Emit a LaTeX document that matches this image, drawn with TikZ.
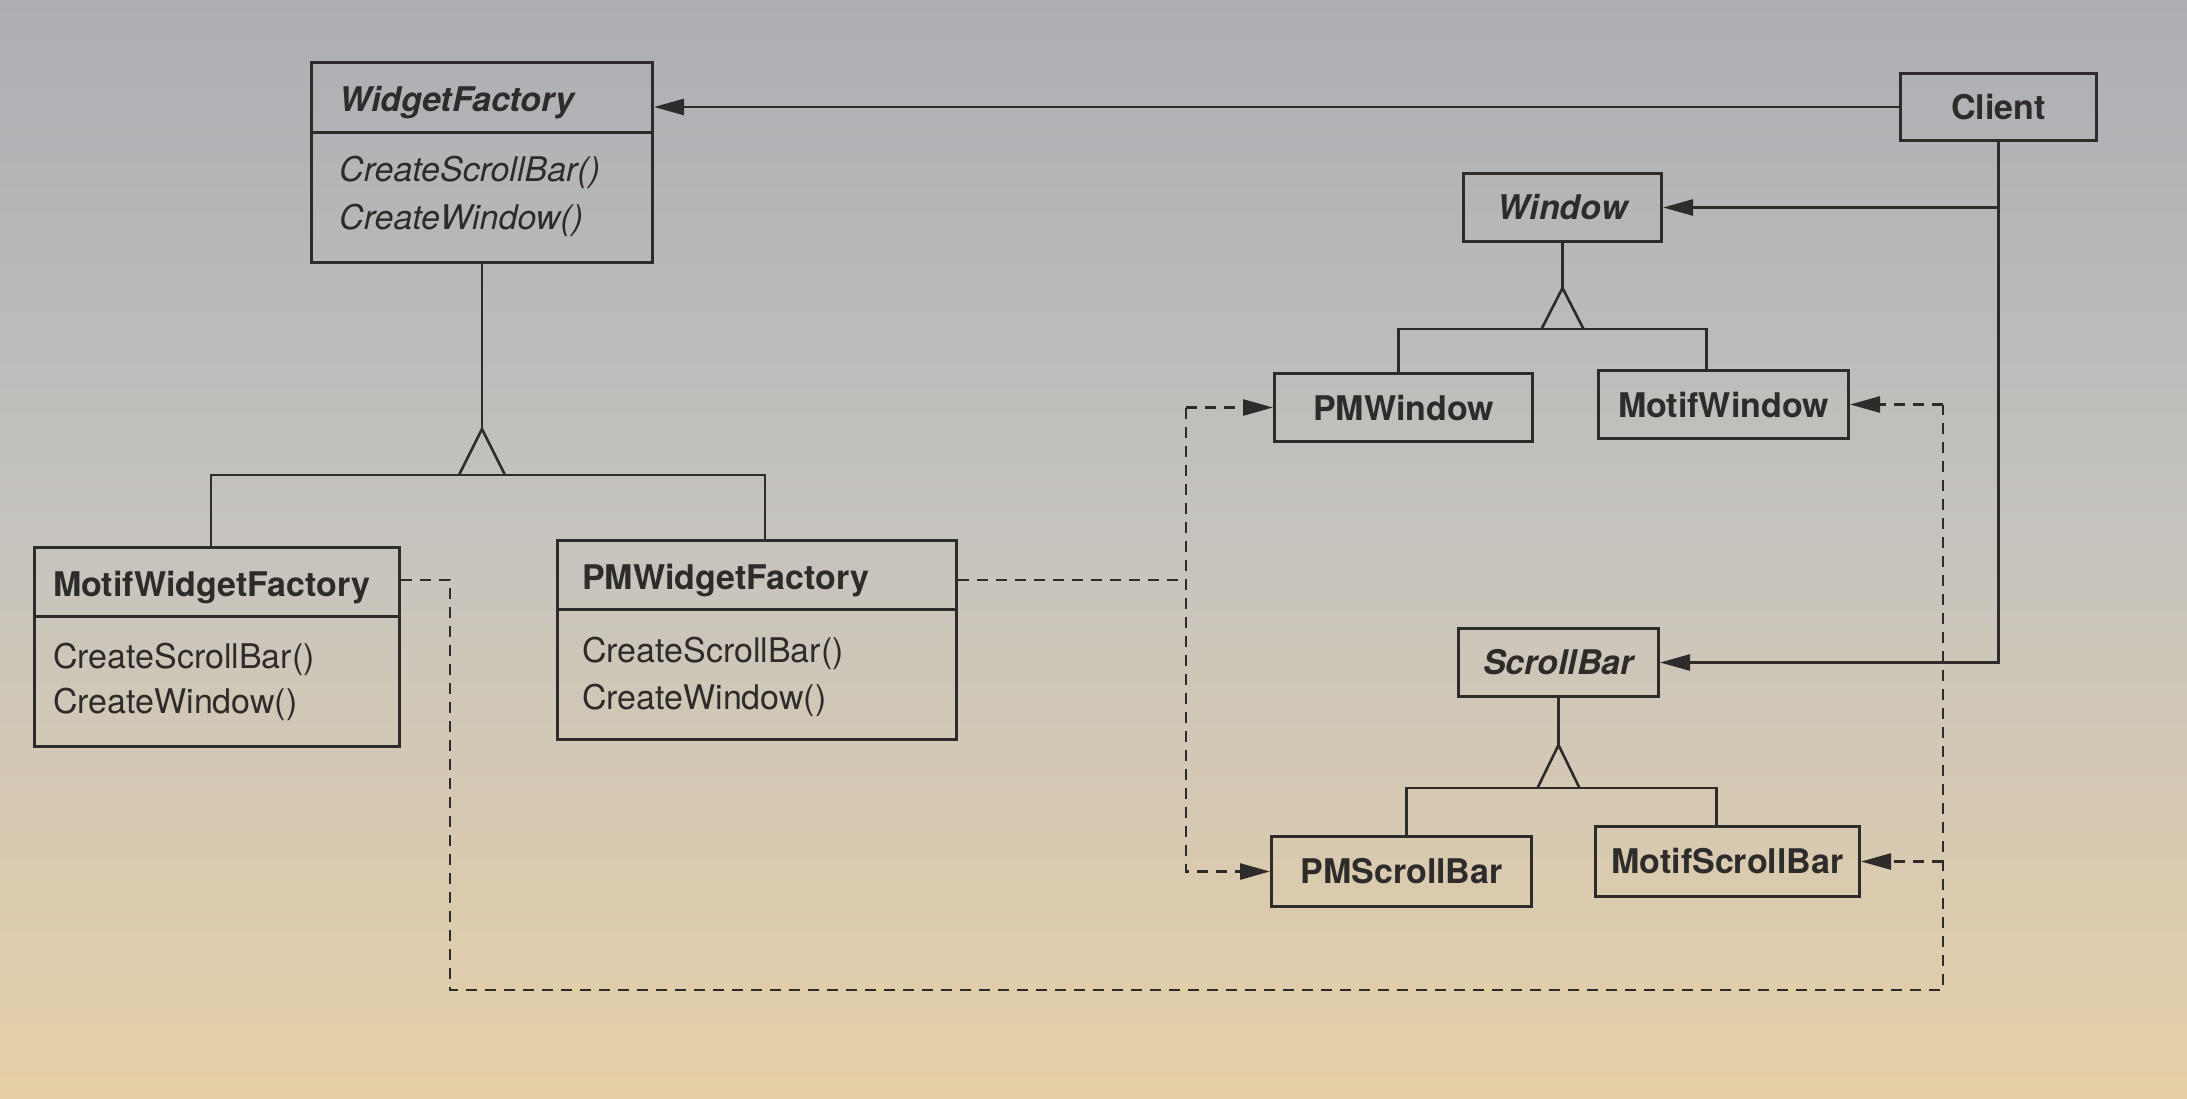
\documentclass[tikz,border=0pt]{standalone}
\usepackage{fontspec}
\setmainfont{TeX Gyre Heros}
\usetikzlibrary{arrows.meta,calc}
\definecolor{ink}{HTML}{2E2C2B}
\definecolor{bgtop}{HTML}{ACAEB4}
\definecolor{bgmid}{HTML}{C7C4BE}
\definecolor{bgbot}{HTML}{E6CFA6}
\begin{document}
\begin{tikzpicture}[x=1pt,y=-1pt,
  uml/.style={draw=ink, line width=3pt, inner sep=0pt, anchor=north west, text=ink,
    font={\fontsize{34}{40}\selectfont\bfseries}},
  txt/.style={inner sep=0pt, text=ink, anchor=base west, font={\fontsize{34}{40}\selectfont}},
  conn/.style={draw=ink, line width=2.6pt, line join=miter},
  dconn/.style={conn, dash pattern=on 11pt off 8pt},
  tip/.style={-{Triangle[length=30pt,width=16pt]}}
]
\fill[top color=bgtop, bottom color=bgbot, middle color=bgmid] (0,0) rectangle (2187,1099);
\useasboundingbox (0,0) rectangle (2187,1099);

% ---- abstract factory
\node[uml, minimum width=341pt, minimum height=200pt] (wf) at (310,61) {};
\draw[conn, line width=3pt] ($(wf.north west)+(0,72)$) -- ($(wf.north east)+(0,72)$);
\node[txt] (wft) at ($(wf.north west)+(29,51)$) {\bfseries\itshape WidgetFactory};
\node[txt] (wfm1) at ($(wf.north west)+(29,121)$) {\itshape CreateScrollBar()};
\node[txt] (wfm2) at ($(wf.north west)+(29,169)$) {\itshape CreateWindow()};

% ---- concrete factories
\node[uml, minimum width=365pt, minimum height=199pt] (mwf) at (33,546) {};
\draw[conn, line width=3pt] ($(mwf.north west)+(0,70)$) -- ($(mwf.north east)+(0,70)$);
\node[txt] (mwft) at ($(mwf.north west)+(20,50)$) {\bfseries MotifWidgetFactory};
\node[txt] (mwfm1) at ($(mwf.north west)+(20,122)$) {CreateScrollBar()};
\node[txt] (mwfm2) at ($(mwf.north west)+(20,167)$) {CreateWindow()};

\node[uml, minimum width=399pt, minimum height=199pt] (pwf) at (556,539) {};
\draw[conn, line width=3pt] ($(pwf.north west)+(0,70)$) -- ($(pwf.north east)+(0,70)$);
\node[txt] (pwft) at ($(pwf.north west)+(26,50)$) {\bfseries PMWidgetFactory};
\node[txt] (pwfm1) at ($(pwf.north west)+(26,123)$) {CreateScrollBar()};
\node[txt] (pwfm2) at ($(pwf.north west)+(26,170)$) {CreateWindow()};

% ---- client and products
\node[uml, minimum width=196pt, minimum height=67pt] (client) at (1899,72) {Client};
\node[uml, minimum width=198pt, minimum height=68pt] (win) at (1462,172) {\itshape Window};
\node[uml, minimum width=258pt, minimum height=68pt] (pmw) at (1273,372) {PMWindow};
\node[uml, minimum width=250pt, minimum height=68pt] (mtw) at (1597,369) {MotifWindow};
\node[uml, minimum width=200pt, minimum height=68pt] (sb) at (1457,627) {\itshape ScrollBar};
\node[uml, minimum width=260pt, minimum height=70pt] (pms) at (1270,835) {PMScrollBar};
\node[uml, minimum width=264pt, minimum height=70pt] (mts) at (1594,825) {MotifScrollBar};

% ---- client associations
\draw[conn, tip] (client.west) -- (client.west -| wf.east);
\draw[conn, tip] (client.south) |- (sb.east);
\draw[conn, tip] (client.south |- win.east) -- (win.east);

% ---- generalization: WidgetFactory
\coordinate (wfb) at ($(wf.south)+(0,211)$);
\draw[conn] (wf.south) -- ($(wfb)+(0,-46)$);
\draw[conn] ($(wfb)+(-23,0)$) -- ($(wfb)+(0,-46)$) -- ($(wfb)+(23,0)$);
\draw[conn] ([xshift=-6pt]mwf.north) -- ([xshift=-6pt]mwf.north |- wfb)
  -- ([xshift=8pt]pwf.north |- wfb) -- ([xshift=8pt]pwf.north);

% ---- generalization: Window
\coordinate (wb) at ($(win.south)+(0,86)$);
\draw[conn] (win.south) -- ($(wb)+(0,-41)$);
\draw[conn] ($(wb)+(-21,0)$) -- ($(wb)+(0,-41)$) -- ($(wb)+(21,0)$);
\draw[conn] ([xshift=-5pt]pmw.north) -- ([xshift=-5pt]pmw.north |- wb)
  -- ([xshift=-17pt]mtw.north |- wb) -- ([xshift=-17pt]mtw.north);

% ---- generalization: ScrollBar
\coordinate (sbb) at ($(sb.south)+(0,90)$);
\draw[conn] (sb.south) -- ($(sbb)+(0,-43)$);
\draw[conn] ($(sbb)+(-21,0)$) -- ($(sbb)+(0,-43)$) -- ($(sbb)+(21,0)$);
\draw[conn] ([xshift=5pt]pms.north) -- ([xshift=5pt]pms.north |- sbb)
  -- ([xshift=-11pt]mts.north |- sbb) -- ([xshift=-11pt]mts.north);

% ---- PM instantiation (dashed)
\coordinate (pwfa) at ($(pwf.north east)+(0,41)$);
\coordinate (pmtop) at ($(pmw.west)+(-87,0)$);
\draw[dconn] (pwfa) -- (pwfa -| pmtop);
\draw[dconn, tip] (pmtop) -- (pmw.west);
\draw[dconn, tip] (pmtop) |- (pms.west);

% ---- Motif instantiation (dashed)
\coordinate (mwfa) at ($(mwf.north east)+(0,34)$);
\coordinate (mleft) at ($(mwfa)+(49,0)$);
\coordinate (mright) at ($(mtw.east)+(93,0)$);
\coordinate (mbot) at ($(mleft)+(0,410)$);
\draw[dconn] (mwfa) -- (mleft) -- (mbot) -- (mbot -| mright) -- (mright);
\draw[dconn, tip] (mright) -- (mtw.east);
\draw[dconn, tip] (mright |- mts.east) -- (mts.east);
\end{tikzpicture}
\end{document}
